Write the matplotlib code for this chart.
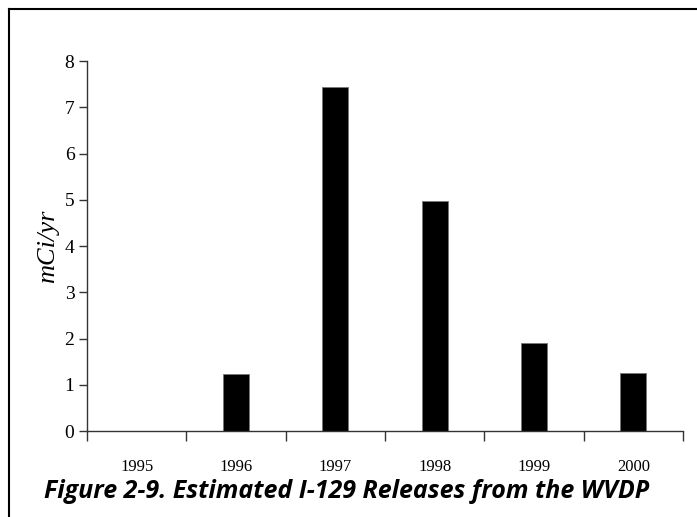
import numpy as np
import matplotlib.pyplot as plt
from matplotlib.lines import Line2D

# -------------------- data --------------------
years = ["1995", "1996", "1997", "1998", "1999", "2000"]
releases = [0.0, 1.23, 7.43, 4.97, 1.90, 1.25]   # mCi/yr
y_ticks = [0, 1, 2, 3, 4, 5, 6, 7, 8]

caption = "Figure 2-9. Estimated I-129 Releases from the WVDP"

# -------------------- figure --------------------
fig = plt.figure(figsize=(6.97, 5.17), dpi=100)
ax = fig.add_axes([0.1248, 0.1663, 0.855, 0.7157])

x = np.arange(len(years))
ax.bar(x, releases, width=0.26, color="black", edgecolor="#777777", linewidth=0.6)

ax.set_xlim(-0.5, len(years) - 0.5)
ax.set_ylim(0, 8)

# ticks between categories, labels centered
ax.set_xticks(np.arange(-0.5, len(years)), labels=[])
ax.set_xticks(x, labels=years, minor=True)
ax.tick_params(axis="x", which="major", direction="out", length=7, width=1, color="#333333")
ax.tick_params(axis="x", which="minor", length=0, pad=20, labelsize=12)
ax.set_yticks(y_ticks)
ax.tick_params(axis="y", direction="out", length=6, width=1, color="#333333", pad=3,
               labelsize=14)
for lab in ax.get_xticklabels(which="minor") + ax.get_yticklabels():
    lab.set_family("Liberation Serif")

for s in ["top", "right"]:
    ax.spines[s].set_visible(False)
for s in ["left", "bottom"]:
    ax.spines[s].set_color("#333333")
    ax.spines[s].set_linewidth(1)

ax.set_ylabel("mCi/yr", family="Liberation Serif", style="italic", fontsize=19, labelpad=4)

# frame lines (top and left) around the figure
fig.add_artist(Line2D([9 / 697, 1], [1 - 9 / 517, 1 - 9 / 517], transform=fig.transFigure,
                      color="black", linewidth=1.5))
fig.add_artist(Line2D([9 / 697, 9 / 697], [0, 1 - 9 / 517], transform=fig.transFigure,
                      color="black", linewidth=1.5))

fig.text(0.497, 1 - 492 / 517, caption, ha="center", va="center", fontsize=18,
         family="Open Sans", weight="bold", style="italic")

fig.savefig("out.png", dpi=100)
